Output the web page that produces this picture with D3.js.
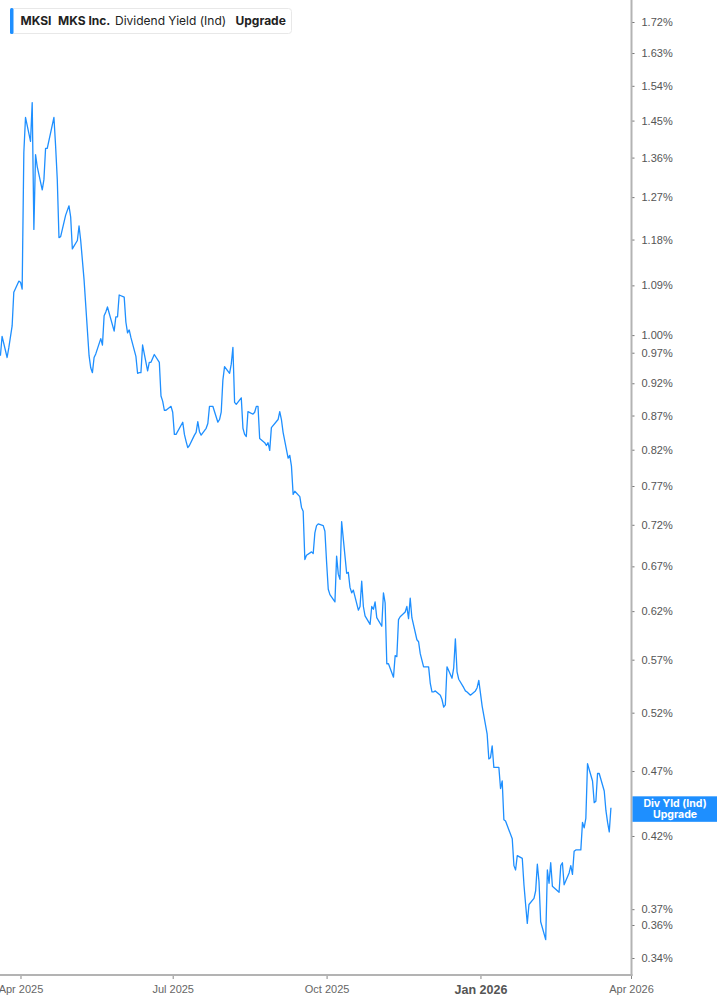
<!DOCTYPE html>
<html>
<head>
<meta charset="utf-8">
<script src="https://cdn.jsdelivr.net/npm/d3@7"></script>
<style>
  body { margin: 0; background: #fff; }
  svg { display: block; font-family: Inter, "Noto Sans", sans-serif; }
</style>
</head>
<body>
<div id="chart"></div>
<script>
// MKSI dividend yield (indicated), daily closes
const dates = [
  "2025-03-20","2025-03-21","2025-03-24","2025-03-25","2025-03-27","2025-03-28","2025-03-31",
  "2025-04-01","2025-04-02","2025-04-03","2025-04-04","2025-04-07","2025-04-08","2025-04-09","2025-04-10","2025-04-11",
  "2025-04-14","2025-04-15","2025-04-16","2025-04-17","2025-04-21","2025-04-22","2025-04-23","2025-04-24","2025-04-25",
  "2025-04-28","2025-04-30",
  "2025-05-01","2025-05-02","2025-05-05","2025-05-06","2025-05-07","2025-05-09","2025-05-12","2025-05-13","2025-05-14",
  "2025-05-15","2025-05-16","2025-05-19","2025-05-20","2025-05-21","2025-05-22","2025-05-23","2025-05-27","2025-05-28",
  "2025-05-29","2025-05-30",
  "2025-06-02","2025-06-03","2025-06-04","2025-06-05","2025-06-06","2025-06-09","2025-06-10","2025-06-11","2025-06-12",
  "2025-06-13","2025-06-16","2025-06-17","2025-06-18","2025-06-20","2025-06-23","2025-06-24","2025-06-25","2025-06-26",
  "2025-06-27","2025-06-30",
  "2025-07-01","2025-07-02","2025-07-03","2025-07-07","2025-07-08","2025-07-09","2025-07-10","2025-07-11","2025-07-14",
  "2025-07-15","2025-07-16","2025-07-17","2025-07-18","2025-07-21","2025-07-22","2025-07-23","2025-07-24","2025-07-25",
  "2025-07-28","2025-07-29","2025-07-30","2025-07-31",
  "2025-08-01","2025-08-04","2025-08-05","2025-08-06","2025-08-07","2025-08-08","2025-08-11","2025-08-12","2025-08-13",
  "2025-08-14","2025-08-15","2025-08-18","2025-08-19","2025-08-20","2025-08-21","2025-08-22","2025-08-25","2025-08-26",
  "2025-08-27","2025-08-28","2025-08-29",
  "2025-09-02","2025-09-03","2025-09-04","2025-09-05","2025-09-08","2025-09-09","2025-09-10","2025-09-11","2025-09-12",
  "2025-09-15","2025-09-16","2025-09-17","2025-09-18","2025-09-19","2025-09-22","2025-09-23","2025-09-24","2025-09-25",
  "2025-09-26","2025-09-29","2025-09-30",
  "2025-10-01","2025-10-02","2025-10-03","2025-10-06","2025-10-07","2025-10-08","2025-10-09","2025-10-10","2025-10-13",
  "2025-10-14","2025-10-15","2025-10-16","2025-10-17","2025-10-20","2025-10-21","2025-10-22","2025-10-23","2025-10-24",
  "2025-10-27","2025-10-28","2025-10-29","2025-10-30","2025-10-31",
  "2025-11-03","2025-11-04","2025-11-05","2025-11-06","2025-11-07","2025-11-10","2025-11-11","2025-11-12","2025-11-13",
  "2025-11-14","2025-11-17","2025-11-18","2025-11-19","2025-11-20","2025-11-21","2025-11-24","2025-11-25","2025-11-26",
  "2025-11-28",
  "2025-12-01","2025-12-02","2025-12-03","2025-12-04","2025-12-05","2025-12-08","2025-12-09","2025-12-10","2025-12-11",
  "2025-12-12","2025-12-15","2025-12-16","2025-12-17","2025-12-18","2025-12-19","2025-12-22","2025-12-23","2025-12-24",
  "2025-12-26","2025-12-29","2025-12-30","2025-12-31",
  "2026-01-02","2026-01-05","2026-01-06","2026-01-07","2026-01-08","2026-01-09","2026-01-12","2026-01-13","2026-01-14",
  "2026-01-15","2026-01-16","2026-01-20","2026-01-21","2026-01-22","2026-01-23","2026-01-26","2026-01-27","2026-01-28",
  "2026-01-29","2026-01-30",
  "2026-02-02","2026-02-03","2026-02-04","2026-02-05","2026-02-06","2026-02-09","2026-02-10","2026-02-11","2026-02-12",
  "2026-02-13","2026-02-17","2026-02-18","2026-02-19","2026-02-20","2026-02-23","2026-02-24","2026-02-25","2026-02-26",
  "2026-02-27",
  "2026-03-02","2026-03-03","2026-03-04","2026-03-05","2026-03-06","2026-03-09","2026-03-10","2026-03-11","2026-03-12",
  "2026-03-13","2026-03-16","2026-03-17","2026-03-18","2026-03-19","2026-03-20"
];

const yields = [
  0.965, 0.998, 0.962, 0.978, 1.016, 1.077, 1.098,
  1.096, 1.083, 1.372, 1.458, 1.399, 1.496, 1.201, 1.367, 1.339,
  1.286, 1.309, 1.382, 1.382, 1.458, 1.387, 1.309, 1.184, 1.186,
  1.231, 1.251,
  1.227, 1.161, 1.178, 1.208, 1.178, 1.101, 0.965, 0.945, 0.937,
  0.962, 0.968, 0.994, 0.983, 1.034, 1.041, 1.050, 1.007, 1.032,
  1.032, 1.072,
  1.068, 1.023, 1.004, 1.009, 0.996, 0.964, 0.936, 0.937, 0.937,
  0.983, 0.940, 0.954, 0.954, 0.967, 0.954, 0.900, 0.892, 0.878,
  0.878, 0.884,
  0.875, 0.842, 0.842, 0.860, 0.842, 0.832, 0.823, 0.826, 0.841,
  0.845, 0.861, 0.846, 0.841, 0.851, 0.858, 0.884, 0.884, 0.884,
  0.860, 0.864, 0.875, 0.925,
  0.947, 0.936, 0.951, 0.979, 0.890, 0.887, 0.897, 0.851, 0.842,
  0.839, 0.876, 0.872, 0.875, 0.884, 0.884, 0.836, 0.830, 0.826,
  0.830, 0.819, 0.852,
  0.864, 0.876, 0.864, 0.845, 0.808, 0.812, 0.797, 0.759, 0.763,
  0.756, 0.742, 0.737, 0.678, 0.683, 0.687, 0.685, 0.710, 0.719,
  0.721, 0.719, 0.712,
  0.675, 0.644, 0.638, 0.630, 0.682, 0.661, 0.655, 0.724, 0.662,
  0.663, 0.646, 0.640, 0.643, 0.621, 0.625, 0.653, 0.625, 0.615,
  0.606, 0.625, 0.622, 0.630, 0.613,
  0.604, 0.640, 0.629, 0.566, 0.566, 0.553, 0.574, 0.573, 0.611,
  0.614, 0.619, 0.625, 0.612, 0.634, 0.613, 0.590, 0.588, 0.576,
  0.563,
  0.563, 0.547, 0.539, 0.539, 0.540, 0.536, 0.532, 0.525, 0.527,
  0.563, 0.552, 0.562, 0.591, 0.558, 0.551, 0.543, 0.540, 0.539,
  0.536, 0.540, 0.543, 0.550,
  0.526, 0.501, 0.480, 0.481, 0.491, 0.473, 0.473, 0.456, 0.462,
  0.432, 0.431, 0.418, 0.399, 0.396, 0.406, 0.404, 0.386, 0.373,
  0.361, 0.373,
  0.377, 0.382, 0.400, 0.388, 0.362, 0.351, 0.396, 0.387, 0.401,
  0.385, 0.381, 0.399, 0.401, 0.386, 0.394, 0.399, 0.393, 0.409,
  0.410,
  0.410, 0.430, 0.426, 0.433, 0.476, 0.462, 0.445, 0.446, 0.468,
  0.468, 0.454, 0.439, 0.430, 0.423, 0.441
];

const yTicks = [0.34, 0.36, 0.37, 0.42, 0.47, 0.52, 0.57, 0.62, 0.67, 0.72, 0.77, 0.82,
                0.87, 0.92, 0.97, 1.00, 1.09, 1.18, 1.27, 1.36, 1.45, 1.54, 1.63, 1.72];
const xTicks = ["2025-04-01", "2025-07-01", "2025-10-01", "2026-01-01", "2026-04-01"];
const xTickLabels = ["Apr 2025", "Jul 2025", "Oct 2025", "Jan 2026", "Apr 2026"];
const legendParts = ["MKSI", "MKS Inc.", "Dividend Yield (Ind)", "Upgrade"];
const flagLines = ["Div Yld (Ind)", "Upgrade"];

const W = 717, H = 1005;
const plotRight = 631.5, plotBottom = 975;
const parse = d3.timeParse("%Y-%m-%d");
const data = dates.map((d, i) => ({ date: parse(d), value: yields[i] }));

const svg = d3.select("#chart")
  .append("svg")
  .attr("width", W)
  .attr("height", H);

// scales
const x = d3.scaleTime()
  .domain([new Date(2025, 2, 19, 18), parse("2026-04-01")])
  .range([0, 631]);

const y = d3.scaleLog()
  .domain([0.34, 1.72])
  .range([958, 22]);

// line
svg.append("path")
  .datum(data)
  .attr("fill", "none")
  .attr("stroke", "#1e8fff")
  .attr("stroke-width", 1.3)
  .attr("stroke-linejoin", "round")
  .attr("d", d3.line()
    .x(d => x(d.date))
    .y(d => y(d.value))
  );

// y axis on the right
const yAxis = svg.append("g")
  .attr("transform", `translate(${plotRight}, 0)`)
  .call(d3.axisRight(y)
    .tickValues(yTicks)
    .tickSize(3)
    .tickPadding(7)
    .tickFormat(d => d.toFixed(2) + "%"));
yAxis.select(".domain").remove();
yAxis.selectAll(".tick line").attr("stroke", "#777");
yAxis.selectAll(".tick text")
  .attr("fill", "#555")
  .style("font-size", "11px");

// x axis
const xAxis = svg.append("g")
  .attr("transform", `translate(0, ${plotBottom})`)
  .call(d3.axisBottom(x)
    .tickValues(xTicks.map(parse))
    .tickSize(4)
    .tickPadding(6)
    .tickFormat((d, i) => xTickLabels[i]));
xAxis.select(".domain").remove();
xAxis.selectAll(".tick line").attr("stroke", "#888");
xAxis.selectAll(".tick text")
  .attr("fill", "#666")
  .style("font-size", "11px")
  .filter((d, i) => xTickLabels[i].startsWith("Jan"))
  .attr("fill", "#555")
  .style("font-size", "12.5px")
  .style("font-weight", "700");

// axis frame lines
svg.append("line")
  .attr("x1", 0).attr("x2", plotRight + 1)
  .attr("y1", plotBottom).attr("y2", plotBottom)
  .attr("stroke", "#b3b3b3").attr("stroke-width", 2);
svg.append("line")
  .attr("x1", plotRight).attr("x2", plotRight)
  .attr("y1", 0).attr("y2", plotBottom + 1)
  .attr("stroke", "#b3b3b3").attr("stroke-width", 2);

// legend box, top left
const legend = svg.append("g");
legend.append("rect")
  .attr("x", 10.5).attr("y", 8.5)
  .attr("width", 281).attr("height", 25)
  .attr("rx", 3)
  .attr("fill", "#fff")
  .attr("stroke", "#e8e8e8");
legend.append("rect")
  .attr("x", 10).attr("y", 8)
  .attr("width", 3.5).attr("height", 26)
  .attr("rx", 1.5)
  .attr("fill", "#1e8fff");
const legendX = [20.5, 58, 115, 235.5];
legend.selectAll("text")
  .data(legendParts)
  .join("text")
  .attr("x", (d, i) => legendX[i])
  .attr("y", 25)
  .attr("fill", "#222")
  .style("font-size", "12px")
  .style("font-weight", (d, i) => i === 2 ? 400 : 700)
  .text(d => d);

// last value flag on the axis
const last = data[data.length - 1];
const flagY = y(last.value);
svg.append("rect")
  .attr("x", plotRight + 1)
  .attr("y", flagY - 11.5)
  .attr("width", W - plotRight)
  .attr("height", 25.5)
  .attr("fill", "#1e8fff");
svg.selectAll(".flag")
  .data(flagLines)
  .join("text")
  .attr("class", "flag")
  .attr("x", 675)
  .attr("y", (d, i) => flagY - 1 + i * 11.5)
  .attr("text-anchor", "middle")
  .attr("fill", "#fff")
  .style("font-size", "10.5px")
  .style("font-weight", 700)
  .text(d => d);
</script>
</body>
</html>
